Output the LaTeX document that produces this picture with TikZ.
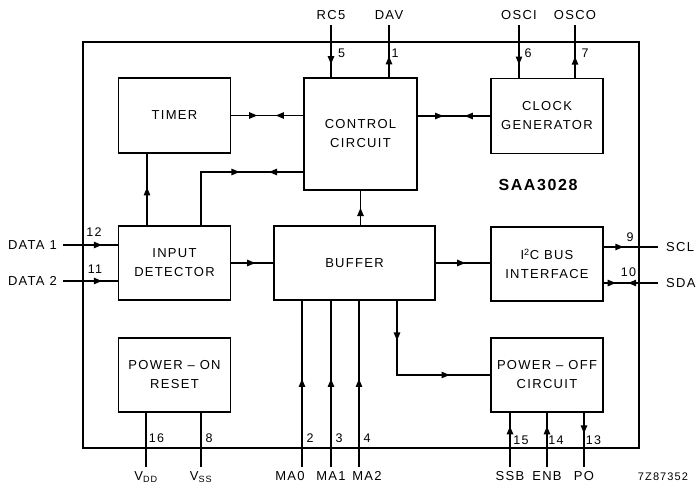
\documentclass[tikz,border=0pt]{standalone}
\usepackage{fontspec}
\setmainfont[LetterSpace=10]{Liberation Sans}
\usepackage{tikz}
\usetikzlibrary{arrows.meta,positioning,decorations.markings}

\begin{document}
\begin{tikzpicture}[x=1pt, y=-1pt,
    block/.style={rectangle, draw, line width=1.6pt, inner sep=0pt, minimum width=112pt, minimum height=75pt, align=center, font=\fontsize{13}{19}\selectfont},
    frame/.style={rectangle, draw, line width=1.8pt, inner sep=0pt},
    conn/.style={line width=1.2pt},
    fwd/.style={postaction={decorate, decoration={markings, mark=at position #1 with {\fill (0pt,0pt) -- (-8pt,3.4pt) -- (-8pt,-3.4pt) -- cycle;}}}},
    bwd/.style={postaction={decorate, decoration={markings, mark=at position #1 with {\fill (0pt,0pt) -- (8pt,3.4pt) -- (8pt,-3.4pt) -- cycle;}}}},
    pinlbl/.style={inner sep=1pt, font=\fontsize{13}{15}\selectfont},
    pinnum/.style={inner sep=0pt, font=\fontsize{12.5}{14}\selectfont}
]
    \useasboundingbox (0,0) rectangle (697,491);

    % chip outline
    \node[frame, minimum width=556pt, minimum height=406pt] (chip) at (361,245) {};
    \node[inner sep=0pt, font=\bfseries\fontsize{16}{18}\selectfont] (chipname) at (538,185) {SAA3028};

    % blocks
    \node[block] (timer) at (174.5,115.5) {TIMER};
    \node[block, minimum width=113pt, minimum height=112pt] (ctrl) at (360.5,134) {CONTROL\\CIRCUIT};
    \node[block] (clock) at (547,116) {CLOCK\\GENERATOR};
    \node[block, minimum height=74pt] (input) at (174.5,263) {INPUT\\DETECTOR};
    \node[block, minimum width=161pt, minimum height=74pt] (buffer) at (354.5,263) {BUFFER};
    \node[block, minimum height=74pt] (i2c) at (547,264) {I\textsuperscript{2}C BUS\\INTERFACE};
    \node[block, minimum height=74pt] (pon) at (174.5,375) {POWER -- ON\\RESET};
    \node[block, minimum height=74pt] (poff) at (547,375) {POWER -- OFF\\CIRCUIT};

    % internal connections
    \draw[conn, fwd=0.36, bwd=0.62] (timer.east) -- (timer.east -| ctrl.west);
    \draw[conn, fwd=0.35, bwd=0.65] (clock.west -| ctrl.east) -- (clock.west);
    \coordinate (fb) at (201,172);
    \draw[conn, fwd=0.59, bwd=0.78] (fb |- input.north) -- (fb) -- (fb -| ctrl.west);
    \draw[conn, fwd=0.53] ([xshift=-27.5pt]input.north) -- ([xshift=-27.5pt]timer.south);
    \draw[conn, fwd=0.5] (ctrl.south |- buffer.north) -- (ctrl.south);
    \draw[conn, fwd=0.57] (input.east) -- (buffer.west);
    \draw[conn, fwd=0.54] (buffer.east) -- (buffer.east -| i2c.west);
    \draw[conn, fwd=0.237, fwd=0.757] ([xshift=42.5pt]buffer.south) |- (poff.west);

    % top pins
    \coordinate (rc5) at (331,25);
    \coordinate (dav) at (389,25);
    \coordinate (osci) at (519,25);
    \coordinate (osco) at (575,25);
    \draw[conn, fwd=0.75] (rc5) -- (rc5 |- ctrl.north);
    \draw[conn, fwd=0.4] (dav |- ctrl.north) -- (dav);
    \draw[conn, fwd=0.75] (osci) -- (osci |- clock.north);
    \draw[conn, fwd=0.4] (osco |- clock.north) -- (osco);
    \node[pinlbl, above=4pt of rc5] (lrc5) {RC5};
    \node[pinlbl, above=4pt of dav] (ldav) {DAV};
    \node[pinlbl, above=4pt of osci] (losci) {OSCI};
    \node[pinlbl, above=4pt of osco] (losco) {OSCO};
    \node[pinnum] (n5) at (341.5,53) {5};
    \node[pinnum] (n1) at (395,53) {1};
    \node[pinnum] (n6) at (528,53) {6};
    \node[pinnum] (n7) at (585,53) {7};

    % left pins
    \coordinate (d1) at (63,245);
    \coordinate (d2) at (63,281);
    \draw[conn, fwd=0.71] (d1) -- (d1 -| input.west);
    \draw[conn, fwd=0.71] (d2) -- (d2 -| input.west);
    \node[pinlbl, left=5pt of d1] (ld1) {DATA 1};
    \node[pinlbl, left=5pt of d2] (ld2) {DATA 2};
    \node[pinnum] (n12) at (94,232) {12};
    \node[pinnum] (n11) at (95,269) {11};

    % right pins
    \coordinate (scl) at (658,247);
    \coordinate (sda) at (658,283);
    \draw[conn, fwd=0.36] (scl -| i2c.east) -- (scl);
    \draw[conn, fwd=0.55, bwd=0.78] (sda) -- (sda -| i2c.east);
    \node[pinlbl, right=7pt of scl] (lscl) {SCL};
    \node[pinlbl, right=7pt of sda] (lsda) {SDA};
    \node[pinnum] (n9) at (630,237) {9};
    \node[pinnum] (n10) at (628.5,272) {10};

    % bottom pins
    \coordinate (vdd) at (146,467);
    \coordinate (vss) at (201,467);
    \coordinate (ma0) at (302,467);
    \coordinate (ma1) at (331,467);
    \coordinate (ma2) at (359,467);
    \coordinate (ssb) at (510,467);
    \coordinate (enb) at (547,467);
    \coordinate (po) at (584,467);
    \draw[conn] (vdd |- pon.south) -- (vdd);
    \draw[conn] (vss |- pon.south) -- (vss);
    \draw[conn, fwd=0.53] (ma0) -- (ma0 |- buffer.south);
    \draw[conn, fwd=0.53] (ma1) -- (ma1 |- buffer.south);
    \draw[conn, fwd=0.53] (ma2) -- (ma2 |- buffer.south);
    \draw[conn, fwd=0.75] (ssb) -- (ssb |- poff.south);
    \draw[conn, fwd=0.75] (enb) -- (enb |- poff.south);
    \draw[conn, fwd=0.38] (po |- poff.south) -- (po);
    \node[pinlbl, below=3pt of vdd] (lvdd) {V\textsubscript{DD}};
    \node[pinlbl, below=3pt of vss] (lvss) {V\textsubscript{SS}};
    \node[pinlbl, below=3pt of ma0, xshift=-12pt] (lma0) {MA0};
    \node[pinlbl, below=3pt of ma1] (lma1) {MA1};
    \node[pinlbl, below=3pt of ma2, xshift=8pt] (lma2) {MA2};
    \node[pinlbl, below=3pt of ssb] (lssb) {SSB};
    \node[pinlbl, below=3pt of enb] (lenb) {ENB};
    \node[pinlbl, below=3pt of po] (lpo) {PO};
    \node[pinnum] (n16) at (156.5,438) {16};
    \node[pinnum] (n8) at (209,438) {8};
    \node[pinnum] (n2) at (310,438) {2};
    \node[pinnum] (n3) at (339,438) {3};
    \node[pinnum] (n4) at (367,438) {4};
    \node[pinnum] (n15) at (521,440) {15};
    \node[pinnum] (n14) at (556,440) {14};
    \node[pinnum] (n13) at (593.5,440) {13};
    \node[font=\fontsize{11}{13}\selectfont] (code) at (663,477) {7Z87352};
\end{tikzpicture}
\end{document}
